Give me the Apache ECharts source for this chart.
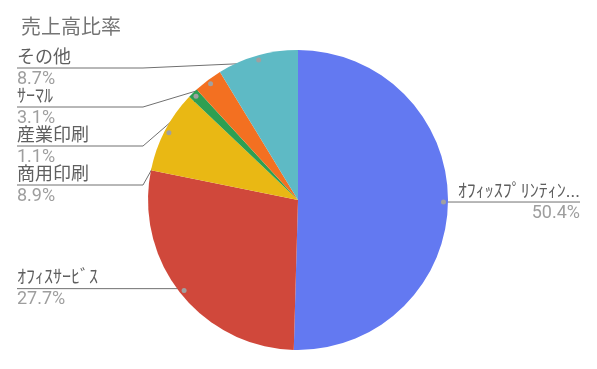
<!DOCTYPE html>
<html><head><meta charset="utf-8">
<script src="https://cdn.jsdelivr.net/npm/echarts@6/dist/echarts.min.js"></script>
<style>html,body{margin:0;padding:0;background:#fff}#c{width:597px;height:369px}</style>
</head><body><div id="c"></div>
<script>
const title = '売上高比率';
const categories = ['ｵﾌｨｯｽﾌﾟﾘﾝﾃｨﾝ...', 'ｵﾌｨｽｻｰﾋﾞｽ', '商用印刷', '産業印刷', 'ｻｰﾏﾙ', 'その他'];
const shares = [50.4, 27.7, 8.9, 1.1, 3.1, 8.7];
const colors = ['#6379F1', '#D0483B', '#E9B814', '#2E9F52', '#F37021', '#5EBAC5'];

const W = 597, H = 369, CX = 298, CY = 200, R = 150;
const DOT_R = R * 0.95, EDGE = 17, TOP = 68, GAP = 39;
const FONT = 'Roboto, "Noto Sans CJK JP", sans-serif';

// label anchor computation from the data angles
const total = shares.reduce((a, b) => a + b, 0);
let acc = 0;
const mids = shares.map(v => { const m = (acc + v / 2) / total * 2 * Math.PI; acc += v; return m; });
const dots = mids.map(a => [CX + DOT_R * Math.sin(a), CY - DOT_R * Math.cos(a)]);
const lineY = dots.map(d => d[1]);
function stack(idx) {
  let prev = -Infinity;
  idx.sort((a, b) => dots[a][1] - dots[b][1]).forEach(i => {
    const y = Math.max(dots[i][1], TOP, prev + GAP);
    lineY[i] = y; prev = y;
  });
}
stack(dots.map((d, i) => i).filter(i => dots[i][0] < CX));
stack(dots.map((d, i) => i).filter(i => dots[i][0] >= CX));

const data = categories.map((n, i) => ({ name: n, value: shares[i] }));

const chart = echarts.init(document.getElementById('c'));
chart.setOption({
  animation: false,
  color: colors,
  title: {
    text: title, left: 16, top: 14,
    textStyle: { fontFamily: FONT, fontSize: 20, fontWeight: 'normal', color: '#757575' }
  },
  series: [{
    type: 'pie',
    center: [CX, CY],
    radius: [0, R],
    startAngle: 90,
    clockwise: true,
    silent: true,
    data: data,
    itemStyle: { borderWidth: 0 },
    label: {
      show: true,
      position: 'outside',
      overflow: 'none',
      bleedMargin: 0,
      fontFamily: FONT,
      formatter: p => `{n|${p.name}}\n{p|${p.value}%}`,
      rich: {
        n: { fontFamily: FONT, fontSize: 18, lineHeight: 20, color: '#5f5f5f' },
        p: { fontFamily: FONT, fontSize: 18, lineHeight: 22, color: '#9e9e9e' }
      }
    },
    labelLine: { show: true, length: 10, length2: 10, lineStyle: { color: '#707070', width: 1 } },
    labelLayout: function (params) {
      const i = params.dataIndex;
      const isLeft = dots[i][0] < CX;
      const y = lineY[i];
      const elbowX = isLeft ? CX - R - 5 : CX + R + 5;
      const endX = isLeft ? EDGE : W - EDGE;
      return {
        x: endX,
        y: y - 20,
        align: isLeft ? 'left' : 'right',
        verticalAlign: 'top',
        labelLinePoints: [dots[i].slice(), [elbowX, y], [endX, y]]
      };
    }
  }, {
    type: 'pie',
    center: [CX, CY],
    radius: [R * 0.9, R],
    startAngle: 90,
    clockwise: true,
    silent: true,
    data: data,
    itemStyle: { color: 'rgba(0,0,0,0)' },
    emphasis: { disabled: true },
    label: {
      show: true,
      position: 'inside',
      formatter: ' ',
      width: 5, height: 5, lineHeight: 5, fontSize: 5, padding: 0,
      backgroundColor: '#a0a0a0', borderRadius: 2.5
    },
    labelLine: { show: false }
  }]
});
</script>
</body></html>
